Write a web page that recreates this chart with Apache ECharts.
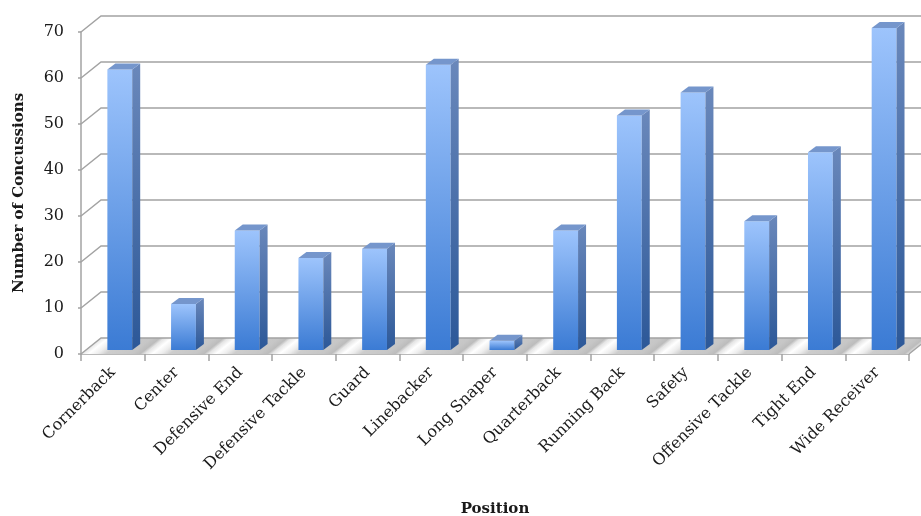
<!DOCTYPE html>
<html>
<head>
<meta charset="utf-8">
<script src="https://cdn.jsdelivr.net/npm/echarts@6/dist/echarts.min.js"></script>
<style>
html,body{margin:0;padding:0;background:#fff;}
#chart{width:921px;height:516px;}
</style>
</head>
<body>
<div id="chart"></div>
<script>
const categories = ['Cornerback','Center','Defensive End','Defensive Tackle','Guard','Linebacker','Long Snaper','Quarterback','Running Back','Safety','Offensive Tackle','Tight End','Wide Receiver'];
const concussions = [61,10,26,20,22,62,2,26,51,56,28,43,70];
const yTicks = [0,10,20,30,40,50,60,70];

const DEPTH_X = 20, DEPTH_Y = -16;   // back wall offset
const BAR_SHIFT_Y = -4;               // bar front plane offset
const BAR_DX = 8, BAR_DY = -6;        // bar depth
const GRID_COLOR = '#a3a3a3';

function renderFloor(params, api) {
  const i = api.value(0);
  const c = api.coord([i, 0]);
  const bw = api.size([1, 0])[0];
  const xl = c[0] - bw / 2 - 0.3, xr = c[0] + bw / 2 + 0.3, y = c[1];
  return {
    type: 'polygon',
    shape: { points: [[xl, y], [xr, y], [xr + DEPTH_X, y + DEPTH_Y], [xl + DEPTH_X, y + DEPTH_Y]] },
    style: {
      fill: {
        type: 'linear', global: true,
        x: xl, y: y, x2: xl + 0.3906 * bw, y2: y + 0.488 * bw,
        colorStops: [
          { offset: 0, color: '#e4e4e4' },
          { offset: 0.12, color: '#ffffff' },
          { offset: 0.26, color: '#ededed' },
          { offset: 0.4, color: '#cdcdcd' },
          { offset: 0.8, color: '#c6c6c6' },
          { offset: 0.93, color: '#bcbcbc' },
          { offset: 1, color: '#e4e4e4' }
        ]
      }
    },
    silent: true
  };
}

function renderGrid(params, api) {
  const v = api.value(1);
  const cs = params.coordSys;
  const y = api.coord([0, v])[1];
  const x0 = cs.x, x1 = cs.x + cs.width;
  const children = [{
    type: 'polyline',
    shape: { points: [[x0, y], [x0 + DEPTH_X, y + DEPTH_Y], [x1 + DEPTH_X, y + DEPTH_Y]] },
    style: { stroke: GRID_COLOR, lineWidth: 1.5, fill: null }
  }];
  if (v === 0) {
    children.push({
      type: 'polyline',
      shape: { points: [[x1, y], [x1 + DEPTH_X, y + DEPTH_Y]] },
      style: { stroke: GRID_COLOR, lineWidth: 1.5, fill: null }
    });
  }
  return { type: 'group', children: children, silent: true };
}

function renderBar(params, api) {
  const i = api.value(0), v = api.value(1);
  const b = api.coord([i, 0]);
  const t = api.coord([i, v]);
  const bw = api.size([1, 0])[0];
  const x0 = b[0] - 0.086 * bw, x1 = x0 + 0.39 * bw;
  const yb = b[1] + BAR_SHIFT_Y, yt = t[1] + BAR_SHIFT_Y;
  return {
    type: 'group',
    children: [
      { type: 'polygon', shape: { points: [[x0, yb], [x1, yb], [x1, yt], [x0, yt]] },
        style: { fill: { type: 'linear', x: 0, y: 0, x2: 0, y2: 1, colorStops: [
          { offset: 0, color: '#9dc4fc' }, { offset: 1, color: '#3b7bd4' } ] } } },
      { type: 'polygon', shape: { points: [[x1, yb], [x1 + BAR_DX, yb + BAR_DY], [x1 + BAR_DX, yt + BAR_DY], [x1, yt]] },
        style: { fill: { type: 'linear', x: 0, y: 0, x2: 0, y2: 1, colorStops: [
          { offset: 0, color: '#6a88bb' }, { offset: 1, color: '#2c5898' } ] } } },
      { type: 'polygon', shape: { points: [[x0, yt], [x1, yt], [x1 + BAR_DX, yt + BAR_DY], [x0 + BAR_DX, yt + BAR_DY]] },
        style: { fill: '#7596cc' } }
    ]
  };
}

const chart = echarts.init(document.getElementById('chart'));
chart.setOption({
  animation: false,
  backgroundColor: '#ffffff',
  grid: { left: 81, right: 12, top: 32, bottom: 162, containLabel: false, outerBoundsMode: 'none' },
  xAxis: {
    type: 'category',
    data: categories,
    name: 'Position',
    nameLocation: 'middle',
    nameGap: 148,
    nameTextStyle: { fontFamily: 'DejaVu Serif', fontWeight: 'bold', fontSize: 15, color: '#1a1a1a' },
    axisLine: { lineStyle: { color: GRID_COLOR, width: 1.5 } },
    axisTick: { show: true, length: 7, lineStyle: { color: GRID_COLOR, width: 1.5 } },
    axisLabel: { rotate: 45, margin: 16, fontFamily: 'DejaVu Serif', fontSize: 16, color: '#1a1a1a', interval: 0, hideOverlap: false },
    splitLine: { show: false }
  },
  yAxis: {
    type: 'value',
    min: 0, max: 70, interval: 10,
    name: 'Number of Concussions',
    nameLocation: 'middle',
    nameGap: 54,
    nameRotate: 90,
    nameTextStyle: { fontFamily: 'DejaVu Serif', fontWeight: 'bold', fontSize: 15, color: '#1a1a1a' },
    axisLine: { show: true, lineStyle: { color: GRID_COLOR, width: 1.5 } },
    axisTick: { show: true, length: 3, lineStyle: { color: GRID_COLOR, width: 1.5 } },
    axisLabel: { margin: 17, fontFamily: 'DejaVu Serif', fontSize: 16, color: '#1a1a1a' },
    splitLine: { show: false }
  },
  series: [
    { type: 'custom', z: 1, clip: false, renderItem: renderFloor,
      data: categories.map((c, i) => [i, 0]) },
    { type: 'custom', z: 2, clip: false, renderItem: renderGrid,
      data: yTicks.map(v => [0, v]) },
    { type: 'custom', z: 3, clip: false, renderItem: renderBar,
      data: concussions.map((v, i) => [i, v]) }
  ]
});
</script>
</body>
</html>
